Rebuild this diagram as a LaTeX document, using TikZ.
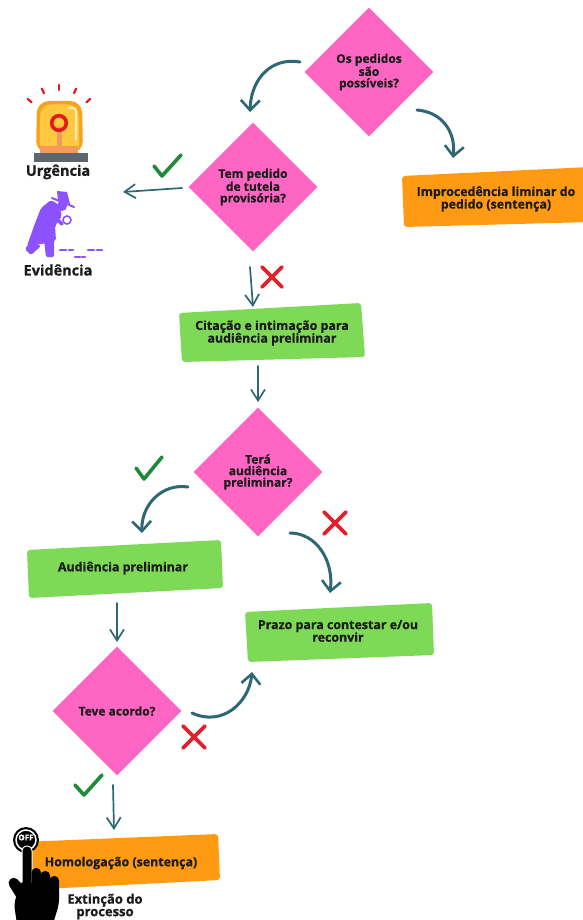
\documentclass[tikz,border=0pt]{standalone}
\usepackage{fontspec}
\setmainfont{Open Sans}[BoldFeatures={FakeBold=0.8}]
\usetikzlibrary{arrows.meta,shapes.geometric,calc}

\definecolor{decisionpink}{HTML}{FF66C4}
\definecolor{stepgreen}{HTML}{7ED957}
\definecolor{steporange}{HTML}{FF9A12}
\definecolor{inkteal}{HTML}{2E6874}
\definecolor{okgreen}{HTML}{1F8A3A}
\definecolor{nored}{HTML}{E3202A}
\definecolor{txt}{HTML}{1C1C1C}
\definecolor{domerim}{HTML}{F7A21B}
\definecolor{domefill}{HTML}{FFC83F}
\definecolor{stemsalmon}{HTML}{F09A5C}
\definecolor{sirenred}{HTML}{E4191F}
\definecolor{basegray}{HTML}{5C6670}
\definecolor{sleuth}{HTML}{8C52FF}

\begin{document}
\begin{tikzpicture}[x=1pt,y=-1pt,
  decision/.style={diamond, fill=decisionpink, minimum width=129pt, minimum height=129pt,
    inner sep=0pt, align=center, text=txt, font=\bfseries\fontsize{12}{11.5}\selectfont},
  steptext/.style={align=center, text=txt, inner sep=0pt, font=\bfseries\fontsize{12.4}{12.6}\selectfont},
  iconlabel/.style={text=txt, inner sep=0pt, font=\bfseries\fontsize{14.5}{15}\selectfont},
  flow/.style={draw=inkteal, line width=3pt, line cap=round,
    -{Straight Barb[length=10pt,width=19pt,line width=2.6pt]}},
  thinflow/.style={draw=inkteal, line width=1.7pt, line cap=round,
    -{Straight Barb[length=11pt,width=14pt,line width=1.7pt]}},
  yesmark/.style={draw=okgreen, line width=3.6pt, line cap=round, line join=round},
  nomark/.style={draw=nored, line width=3.8pt, line cap=round},
  brush/.style={rounded corners=3pt}
]
\useasboundingbox (0,0) rectangle (583,920);
\fill[white] (0,0) rectangle (583,920);

% ---------- decisions ----------
\node[decision] (d1) at (369,72) {Os pedidos\\são\\possíveis?};
\node[decision] (d2) at (253,187) {Tem pedido\\de tutela\\provisória?};
\node[decision] (d3) at (258,472) {Terá\\audiência\\preliminar?};
\node[decision] (d4) at (117,711) {Teve acordo?};

% ---------- brush boxes ----------
\fill[steporange, brush] (402,176) -- (590,167) -- (590,222) -- (404,227) -- cycle;
\node[steptext] (impro) at (496,199) {Improcedência liminar do\\pedido (sentença)};

\fill[stepgreen, brush] (179,313) -- (361,303) -- (365,357) -- (182,362) -- cycle;
\node[steptext] (cit) at (272,333) {Citação e intimação para\\audiência preliminar};

\fill[stepgreen, brush] (27,550) -- (221,540) -- (223,588) -- (29,598) -- cycle;
\node[steptext] (aud) at (123,568) {Audiência preliminar};

\fill[stepgreen, brush] (245,612) -- (432,603) -- (434,655) -- (248,662) -- cycle;
\node[steptext] (prazo) at (338,631) {Prazo para contestar e/ou\\reconvir};

\fill[steporange, brush] (22,842) -- (218,834) -- (220,880) -- (24,890) -- cycle;
\node[steptext] (hom) at (121,863) {Homologação (sentença)};

\node[steptext, font=\bfseries\fontsize{13}{12.5}\selectfont] (ext) at (105,906.5) {Extinção do\\processo};

% ---------- siren ----------
\foreach \a in {-138,-114,-90,-66,-42}
  \draw[sirenred, line width=2.2pt, line cap=round] ($(59,127)+(\a:37)$) -- ($(59,127)+(\a:42)$);
\fill[domerim, rounded corners=12pt] (36,153) -- (37,101) -- (82,101) -- (83,153) -- cycle;
\fill[domefill, rounded corners=10pt] (39.5,153) -- (40.5,104.5) -- (78.5,104.5) -- (79.5,153) -- cycle;
\draw[white, line width=1.2pt, line cap=round, rounded corners=3pt] (69,108) -- (76,108) -- (76,140);
\fill[stemsalmon] (40,146) rectangle (78,153);
\fill[stemsalmon] (57,127) rectangle (62,148);
\draw[sirenred, line width=3.6pt] (59,123) circle (7.3pt);
\fill[basegray] (34,153) rectangle (88,162);
\node[iconlabel] (urg) at (58,172) {Urgência};

% ---------- sleuth ----------
\fill[sleuth, rounded corners=2pt] (51,200) -- (41,208) -- (34,226) -- (27,246) -- (42,244)
  -- (56,241) -- (55,226) -- (62,216) -- (59,205) -- cycle;
\fill[sleuth, rounded corners=1.5pt] (31,241) -- (25,249) -- (31,255) -- (41,246) -- cycle;
\fill[sleuth, rounded corners=1.5pt] (44,240) -- (46,257) -- (54,257) -- (54,239) -- cycle;
\fill[sleuth] (62,206) circle (5pt);
\fill[sleuth] (57,191) -- (67,192) -- (70,204) -- (58,201) -- cycle;
\draw[sleuth, line width=2pt, line cap=round] (52,198) -- (74,207);
\draw[sleuth, line width=3.5pt, line cap=round] (50,213) -- (62,224);
\draw[sleuth, line width=1.6pt, fill=white] (67,220) circle (4pt);
\foreach \xa/\xb/\yy in {60/66/250, 69/73/250, 75/80/257, 82/85/257, 88/94/250, 97/102/250}
  \draw[sleuth, line width=2.6pt, line cap=round] (\xa,\yy) -- (\xb,\yy);
\node[iconlabel] (evi) at (58,270) {Evidência};

% ---------- off button hand ----------
\fill[black] (26,840) circle (13pt);
\draw[white, line width=1.5pt] (26,840) circle (10pt);
\node[text=white, inner sep=0pt, font=\bfseries\fontsize{8}{8}\selectfont] (off) at (26,837.5) {OFF};
\begin{scope}[rounded corners=4.5pt]
  \fill[black, draw=white, line width=1pt] (22,846) -- (32,846) -- (32,888) -- (22,888) -- cycle;
  \fill[black] (31.5,868) -- (41,868) -- (41,896) -- (31.5,896) -- cycle;
  \fill[black] (40.5,871) -- (50,871) -- (50,898) -- (40.5,898) -- cycle;
  \fill[black] (49.5,876) -- (59,876) -- (59,900) -- (49.5,900) -- cycle;
  \fill[black] (21,881) -- (59,889) -- (59,904) -- (53,924) -- (17,924) -- (14,904) -- cycle;
  \fill[black] (7,882) -- (14,876) -- (26,888) -- (20,903) -- cycle;
\end{scope}

% ---------- answer marks ----------
\draw[yesmark] (154,166) -- (162,176) -- (181,155);
\draw[yesmark] (136,468) -- (144,479) -- (162,457);
\draw[yesmark] (75,785) -- (84,795) -- (102,775);
\draw[nomark] (262,267) -- (282,287) (282,267) -- (262,287);
\draw[nomark] (324,512) -- (346,534) (346,512) -- (324,534);
\draw[nomark] (183,726) -- (205,748) (205,726) -- (183,748);

% ---------- connectors ----------
\coordinate (c1s) at (300,62);  \coordinate (c1e) at (250,112);
\coordinate (c2s) at (417,110); \coordinate (c2e) at (453,158);
\coordinate (c3s) at (188,487); \coordinate (c3e) at (142,533);
\coordinate (c4s) at (290,533); \coordinate (c4e) at (330,593);
\coordinate (c5s) at (192,713); \coordinate (c5e) at (252,672);
\coordinate (s1s) at (182,188); \coordinate (s1e) at (123,192);
\coordinate (s2s) at (250,267); \coordinate (s2e) at (253,307);
\coordinate (s3s) at (258,366); \coordinate (s3e) at (258,402);
\coordinate (s4s) at (117,603); \coordinate (s4e) at (117,642);
\coordinate (s5s) at (113,785); \coordinate (s5e) at (114,830);

\draw[flow] (c1s) .. controls (272,57) and (251,78) .. (c1e);
\draw[flow] (c2s) .. controls (442,112) and (456,132) .. (c2e);
\draw[flow] (c3s) .. controls (162,483) and (141,505) .. (c3e);
\draw[flow] (c4s) .. controls (316,533) and (334,560) .. (c4e);
\draw[flow] (c5s) .. controls (222,727) and (249,703) .. (c5e);
\draw[thinflow] (s1s) -- (s1e);
\draw[thinflow] (s2s) -- (s2e);
\draw[thinflow] (s3s) -- (s3e);
\draw[thinflow] (s4s) -- (s4e);
\draw[thinflow] (s5s) -- (s5e);
\end{tikzpicture}
\end{document}
